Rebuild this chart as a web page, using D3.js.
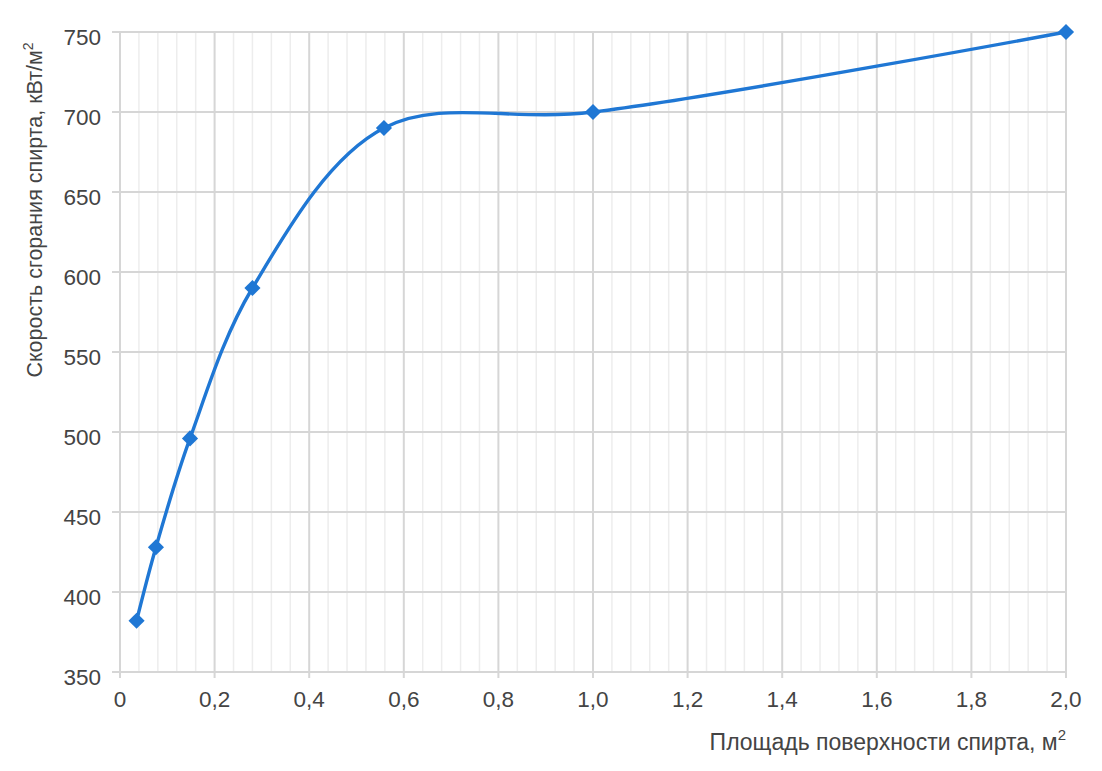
<!DOCTYPE html>
<html><head><meta charset="utf-8">
<script src="https://cdn.jsdelivr.net/npm/d3@7"></script>
<style>
html,body{margin:0;padding:0;background:#fff;}
svg{display:block;font-family:Arial,"Liberation Sans",sans-serif;}
</style></head>
<body>
<svg id="chart" width="1102" height="771"></svg>
<script>
const areas = [0.035, 0.076, 0.148, 0.28, 0.558, 1.0, 2.0];
const rates = [382, 428, 496, 590, 690, 700, 750];
const xTicks = [0, 0.2, 0.4, 0.6, 0.8, 1.0, 1.2, 1.4, 1.6, 1.8, 2.0];
const yTicks = [350, 400, 450, 500, 550, 600, 650, 700, 750];
const xTitle = "Площадь поверхности спирта, м";
const yTitle = "Скорость сгорания спирта, кВт/м";

(function () {
const svg = d3.select("#chart");
const pl = 120, pr = 1066, pt = 32, pb = 672;
const x = d3.scaleLinear().domain([0, 2]).range([pl, pr]);
const y = d3.scaleLinear().domain([350, 750]).range([pb, pt]);

const minorX = d3.range(0, 2.0001, 0.04).filter(v => Math.abs(v/0.2 - Math.round(v/0.2)) > 1e-6);

const g = svg.append("g");
g.append("g").selectAll("line").data(minorX).join("line")
  .attr("x1", d => x(d)).attr("x2", d => x(d))
  .attr("y1", pt).attr("y2", pb)
  .attr("stroke", "#ededed").attr("stroke-width", 1.5);
g.append("g").selectAll("line").data(yTicks).join("line")
  .attr("x1", pl - 8).attr("x2", pr)
  .attr("y1", d => y(d)).attr("y2", d => y(d))
  .attr("stroke", "#d6d6d6").attr("stroke-width", 2);
g.append("g").selectAll("line").data(xTicks).join("line")
  .attr("x1", d => x(d)).attr("x2", d => x(d))
  .attr("y1", pt).attr("y2", pb + 6)
  .attr("stroke", "#d6d6d6").attr("stroke-width", 2);

const fmt = d => d === 0 ? "0" : d3.format(".1f")(d).replace(".", ",");
svg.append("g").selectAll("text").data(xTicks).join("text")
  .attr("x", d => x(d)).attr("y", 707)
  .attr("text-anchor", "middle").attr("font-size", 22.5).attr("fill", "#444")
  .text(fmt);
svg.append("g").selectAll("text").data(yTicks).join("text")
  .attr("x", 101).attr("y", d => y(d) + 12.5)
  .attr("text-anchor", "end").attr("font-size", 22.5).attr("fill", "#444")
  .text(d => d);

const xt = svg.append("text").attr("x", 1066).attr("y", 750)
  .attr("text-anchor", "end").attr("font-size", 23).attr("fill", "#444");
xt.append("tspan").text(xTitle);
xt.append("tspan").attr("font-size", 15).attr("dy", -10).text("2");

const yt = svg.append("text")
  .attr("transform", "translate(42,210) rotate(-90)")
  .attr("text-anchor", "middle").attr("font-size", 21.5).attr("fill", "#444");
yt.append("tspan").text(yTitle);
yt.append("tspan").attr("font-size", 14).attr("dy", -9).text("2");

const pts = areas.map((a, i) => [x(a), y(rates[i])]);
svg.append("path")
  .attr("d", d3.line().curve(d3.curveCatmullRom.alpha(0.5))(pts))
  .attr("fill", "none").attr("stroke", "#1f77d4").attr("stroke-width", 3.4);

const diamond = d3.symbol().type(d3.symbolSquare).size(130);
svg.append("g").selectAll("path").data(pts).join("path")
  .attr("d", diamond())
  .attr("transform", d => `translate(${d[0]},${d[1]}) rotate(45)`)
  .attr("fill", "#1f77d4");
})();
</script>
</body></html>
